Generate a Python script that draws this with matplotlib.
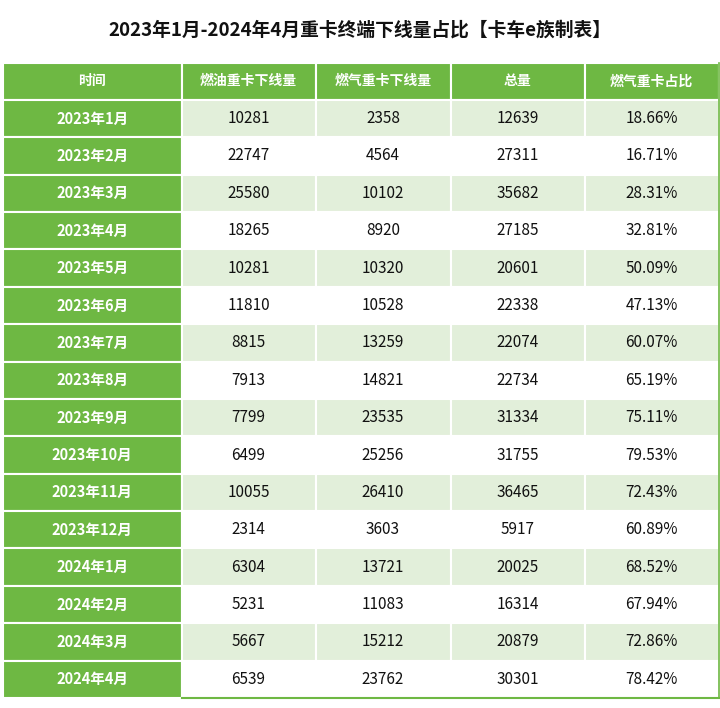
import matplotlib
matplotlib.use("Agg")
import matplotlib.pyplot as plt
from matplotlib.patches import Rectangle

plt.rcParams['font.family'] = ['Noto Sans CJK SC', 'DejaVu Sans']

title = "2023年1月-2024年4月重卡终端下线量占比【卡车e族制表】"
headers = ["时间", "燃油重卡下线量", "燃气重卡下线量", "总量", "燃气重卡占比"]
months = ["2023年1月", "2023年2月", "2023年3月", "2023年4月", "2023年5月", "2023年6月",
          "2023年7月", "2023年8月", "2023年9月", "2023年10月", "2023年11月", "2023年12月",
          "2024年1月", "2024年2月", "2024年3月", "2024年4月"]
diesel = [10281, 22747, 25580, 18265, 10281, 11810, 8815, 7913, 7799, 6499, 10055, 2314,
          6304, 5231, 5667, 6539]
gas = [2358, 4564, 10102, 8920, 10320, 10528, 13259, 14821, 23535, 25256, 26410, 3603,
       13721, 11083, 15212, 23762]
total = [12639, 27311, 35682, 27185, 20601, 22338, 22074, 22734, 31334, 31755, 36465, 5917,
         20025, 16314, 20879, 30301]
share = ["18.66%", "16.71%", "28.31%", "32.81%", "50.09%", "47.13%", "60.07%", "65.19%",
         "75.11%", "79.53%", "72.43%", "60.89%", "68.52%", "67.94%", "72.86%", "78.42%"]

W, H = 720, 708
fig = plt.figure(figsize=(W / 100, H / 100), dpi=100)
ax = fig.add_axes([0, 0, 1, 1])
ax.set_xlim(0, W)
ax.set_ylim(H, 0)
ax.axis('off')

green = '#6EB843'
light = '#E2EFDA'
col_x = [3, 181.5, 315.5, 450.5, 584.5, 718.5]
top = 62.5
bottom = 698
nrows = len(months) + 1
rh = (bottom - top) / nrows

ax.text(W / 2, 30, title, ha='center', va='center', fontsize=13.5, fontweight='bold', color='#111111')

rows = [headers] + [[m, str(d), str(g), str(t), s] for m, d, g, t, s in zip(months, diesel, gas, total, share)]
for r, row in enumerate(rows):
    y0 = top + r * rh
    for c, val in enumerate(row):
        x0, x1 = col_x[c], col_x[c + 1]
        if r == 0 or c == 0:
            fc = green
            tc = 'white'
            fw = 'bold'
            fs = 10 if r == 0 else 10.5
        else:
            fc = light if r % 2 == 1 else 'white'
            tc = '#111111'
            fw = 'normal'
            fs = 11
        ax.add_patch(Rectangle((x0, y0), x1 - x0, rh, facecolor=fc, edgecolor='white', linewidth=1.5))
        ax.text((x0 + x1) / 2, y0 + rh / 2, val, ha='center', va='center',
                fontsize=fs, fontweight=fw, color=tc)

# outer green border on data area
ax.plot([col_x[1], col_x[-1]], [bottom, bottom], color=green, lw=1.5)
ax.plot([col_x[-1], col_x[-1]], [top, bottom], color=green, lw=1.2)

fig.savefig('out.png', dpi=100)
